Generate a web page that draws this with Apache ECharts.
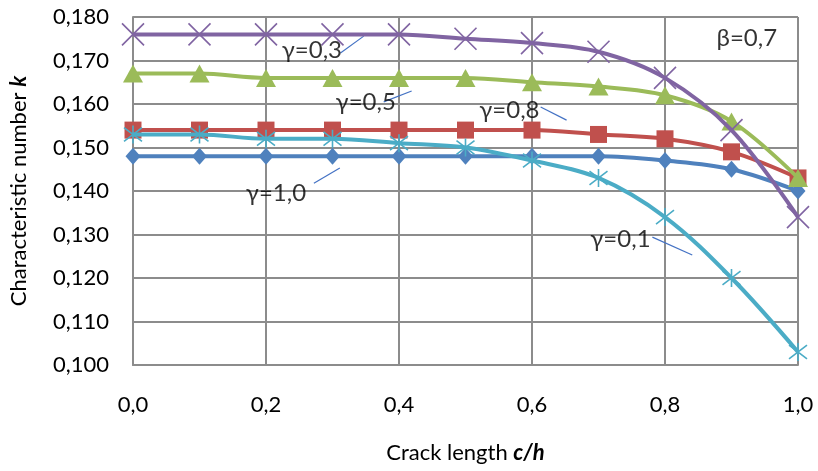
<!DOCTYPE html>
<html>
<head>
<meta charset="utf-8">
<script src="https://cdn.jsdelivr.net/npm/echarts@6/dist/echarts.min.js"></script>
<style>html,body{margin:0;padding:0;background:#fff}#c{width:818px;height:471px}</style>
</head>
<body>
<div id="c"></div>
<script>
// crack length c/h
const crackLength = [0.0, 0.1, 0.2, 0.3, 0.4, 0.5, 0.6, 0.7, 0.8, 0.9, 1.0];
// characteristic number k for each gamma (beta = 0.7)
const kGamma10 = [0.148, 0.148, 0.148, 0.148, 0.148, 0.148, 0.148, 0.148, 0.147, 0.145, 0.140];
const kGamma08 = [0.154, 0.154, 0.154, 0.154, 0.154, 0.154, 0.154, 0.153, 0.152, 0.149, 0.143];
const kGamma05 = [0.167, 0.167, 0.166, 0.166, 0.166, 0.166, 0.165, 0.164, 0.162, 0.156, 0.143];
const kGamma03 = [0.176, 0.176, 0.176, 0.176, 0.176, 0.175, 0.174, 0.172, 0.166, 0.154, 0.134];
const kGamma01 = [0.153, 0.153, 0.152, 0.152, 0.151, 0.150, 0.147, 0.143, 0.134, 0.120, 0.103];
const seriesNames = ['γ=1,0', 'γ=0,8', 'γ=0,5', 'γ=0,3', 'γ=0,1'];
// annotation labels: [x, y, text]
const annotations = [
  [0.269, 0.1724, 'γ=0,3'],
  [0.350, 0.1605, 'γ=0,5'],
  [0.566, 0.1586, 'γ=0,8'],
  [0.215, 0.1395, 'γ=1,0'],
  [0.733, 0.1290, 'γ=0,1'],
  [0.923, 0.1752, 'β=0,7']
];
// leader lines: [[x1, y1], [x2, y2]]
const leaders = [
  [[0.312, 0.1717], [0.347, 0.1756]],
  [[0.377, 0.1605], [0.419, 0.1630]],
  [[0.613, 0.1593], [0.652, 0.1563]],
  [[0.272, 0.1418], [0.311, 0.1453]],
  [[0.781, 0.1294], [0.841, 0.1253]]
];
const yTicks = {min: 0.100, max: 0.180, interval: 0.010};
const xTicks = {min: 0, max: 1, interval: 0.2};

const FONT = 'Lato';
const colors = ['#4F81BD', '#C0504D', '#9BBB59', '#8064A2', '#4BACC6'];
const symbols = [
  'diamond', 'rect', 'triangle',
  'path://M0,0L10,10M10,0L0,10',
  'path://M0,0L10,10M10,0L0,10M5,-1.5L5,11.5'
];
const symSizes = [[15, 17], 17, [20, 18], 22, 18];
const allK = [kGamma10, kGamma08, kGamma05, kGamma03, kGamma01];

const series = allK.map((arr, i) => {
  const isPath = i >= 3;
  return {
    name: seriesNames[i],
    type: 'line',
    smooth: 0.35,
    data: crackLength.map((x, j) => [x, arr[j]]),
    symbol: symbols[i],
    symbolSize: symSizes[i],
    showAllSymbol: true,
    lineStyle: {color: colors[i], width: 4},
    itemStyle: isPath
      ? {color: 'rgba(0,0,0,0)', borderColor: colors[i], borderWidth: 1.6}
      : {color: colors[i], borderColor: colors[i], borderWidth: 0},
    z: 2 + i
  };
});

series.push({
  type: 'scatter',
  symbolSize: 0,
  z: 20,
  silent: true,
  data: annotations.map(a => ({value: [a[0], a[1]], name: a[2]})),
  label: {
    show: true, position: 'inside', formatter: p => p.name,
    color: '#000', fontFamily: FONT, fontSize: 24
  },
  markLine: {
    silent: true, symbol: 'none', animation: false,
    label: {show: false},
    lineStyle: {color: '#4472C4', width: 1.2, type: 'solid'},
    data: leaders.map(l => [{coord: l[0]}, {coord: l[1]}])
  }
});

const fmt = (d) => (v) => v.toFixed(d).replace('.', ',');

const chart = echarts.init(document.getElementById('c'));
chart.setOption({
  animation: false,
  backgroundColor: '#fff',
  textStyle: {fontFamily: FONT},
  grid: {left: 132, right: 20, top: 17, bottom: 106, containLabel: false},
  xAxis: {
    type: 'value', min: xTicks.min, max: xTicks.max, interval: xTicks.interval,
    name: 'Crack length {b|c/h}', nameLocation: 'middle', nameGap: 77,
    nameTextStyle: {fontFamily: FONT, fontSize: 22, color: '#000',
      rich: {b: {fontFamily: FONT, fontSize: 22, fontWeight: 'bold', fontStyle: 'italic', color: '#000'}}},
    axisLine: {lineStyle: {color: '#8C8C8C', width: 2}},
    axisTick: {show: false},
    axisLabel: {formatter: fmt(1), fontFamily: FONT, fontSize: 22, color: '#000', margin: 29},
    splitLine: {show: true, lineStyle: {color: '#8C8C8C', width: 2}}
  },
  yAxis: {
    type: 'value', min: yTicks.min, max: yTicks.max, interval: yTicks.interval,
    name: 'Characteristic number {b|k}', nameLocation: 'middle', nameGap: 103, nameRotate: 90,
    nameTextStyle: {fontFamily: FONT, fontSize: 22, color: '#000',
      rich: {b: {fontFamily: FONT, fontSize: 22, fontWeight: 'bold', fontStyle: 'italic', color: '#000'}}},
    axisLine: {show: true, lineStyle: {color: '#8C8C8C', width: 2}},
    axisTick: {show: false},
    axisLabel: {formatter: fmt(3), fontFamily: FONT, fontSize: 22, color: '#000', margin: 24},
    splitLine: {show: true, lineStyle: {color: '#8C8C8C', width: 2}}
  },
  series: series
});
</script>
</body>
</html>
